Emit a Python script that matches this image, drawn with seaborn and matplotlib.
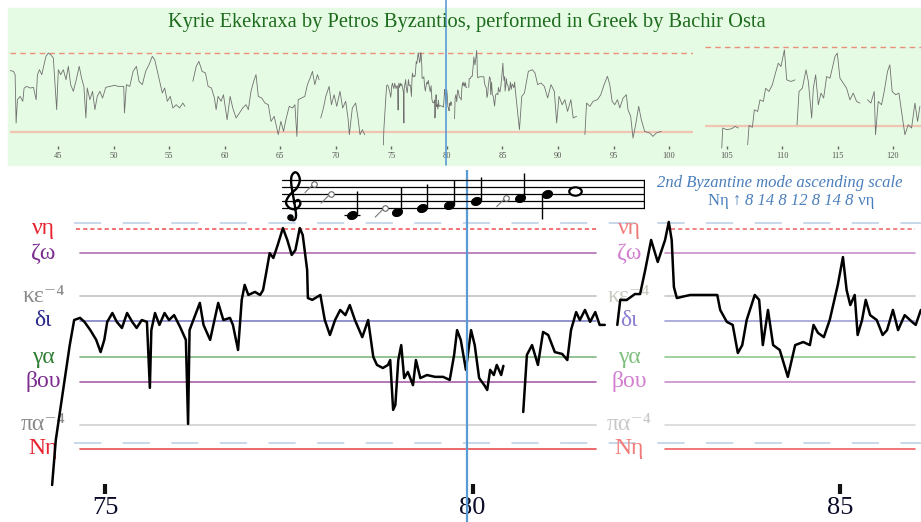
import matplotlib
matplotlib.use("Agg")
import matplotlib.pyplot as plt
from matplotlib.markers import MarkerStyle
from matplotlib.transforms import Affine2D
import numpy as np
import pandas as pd
import seaborn as sns

nan = float("nan")

TITLE = "Kyrie Ekekraxa by Petros Byzantios, performed in Greek by Bachir Osta"
SCALE_TITLE = "2nd Byzantine mode ascending scale"
SCALE_START = "Nη ↑ "
SCALE_STEPS = "8 14 8 12 8 14 8"
SCALE_END = " νη"
CURSOR_T = 79.92  # playback position, seconds

# degrees of the 2nd mode, in moria above the low Nη
degree_names = ["νη", "ζω", "κε⁻⁴", "δι", "γα", "βου", "πα⁻⁴", "Nη"]
degree_moria = [72, 64, 50, 42, 30, 22, 8, 0]
label_colors = ["#e8222e", "#7b2d8e", "#8a8a8a", "#2b2b8c", "#2e7d32", "#7b2d8e", "#8a8a8a", "#e8222e"]
line_colors = ["#f25c5c", "#b070b0", "#c2c2c2", "#8080c4", "#80b880", "#a860a8", "#cfcfcf", "#e85050"]
faded_label_colors = ["#f07a7a", "#d27fd0", "#c9c9c0", "#8a7fd0", "#7fc07f", "#d27fd0", "#c8c8c8", "#f07a7a"]
faded_line_colors = ["#f07070", "#c890c8", "#c8c8c8", "#a0a0d8", "#90c890", "#c890c8", "#d8d8d8", "#f06060"]
tempered_moria = [74, 2]

# zoomed pitch track (seconds, moria)
detail_t = [
    74.28, 74.33, 74.43, 74.52, 74.58, 74.66, 74.72, 74.80, 74.88, 74.94,
    74.99, 75.03, 75.10, 75.16, 75.23, 75.30, 75.37, 75.43, 75.50, 75.57,
    75.61, 75.63, 75.68, 75.74, 75.81, 75.87, 75.94, 76.02, 76.10, 76.13,
    76.15, 76.29, 76.34, 76.43, 76.54, 76.61, 76.70, 76.74, 76.81, 76.86,
    76.90, 76.95, 77.04, 77.11, 77.15, 77.20, 77.24, 77.29, 77.35, 77.42,
    77.48, 77.54, 77.59, 77.65, 77.69, 77.75, 77.76, 77.82, 77.93, 77.99,
    78.06, 78.13, 78.20, 78.27, 78.33, 78.40, 78.50, 78.58, 78.65, 78.70,
    78.78, 78.85, 78.88, 78.92, 78.95, 78.99, 79.03, 79.07, 79.12, 79.19,
    79.23, 79.29, 79.38, 79.49, 79.60, 79.69, 79.75, 79.79, 79.84, 79.91,
    79.98, 80.03, 80.09, 80.16, 80.20, 80.24, 80.29, 80.33, 80.39, 80.42,
    nan,
    80.69, 80.74, 80.81, 80.89, 80.96, 81.03, 81.12, 81.22, 81.29, 81.34,
    81.41, 81.46, 81.53, 81.60, 81.67, 81.73, 81.80,
    nan,
    81.97, 82.01, 82.10, 82.21, 82.28, 82.35, 82.43, 82.52, 82.62, 82.67,
    82.71, 82.74, 82.78, 82.96, 83.16, 83.33, 83.37, 83.46, 83.54, 83.61,
    83.67, 83.73, 83.84, 83.90, 83.95, 84.02, 84.09, 84.18, 84.29, 84.39,
    84.50, 84.59, 84.64, 84.70, 84.78, 84.86, 84.97, 85.04, 85.09, 85.14,
    85.20, 85.24, 85.30, 85.35, 85.41, 85.50, 85.58, 85.64, 85.72, 85.79,
    85.88, 85.98, 86.03, 86.10,
]
detail_p = [
    -11.8, 2.9, 19.3, 34.0, 42.2, 42.9, 41.6, 38.9, 35.7, 31.7,
    35.7, 41.6, 44.5, 41.6, 39.6, 44.5, 41.6, 39.6, 42.2, 41.6,
    20.0, 38.9, 44.5, 40.6, 44.5, 42.2, 43.8, 40.0, 35.7, 8.2,
    38.9, 47.8, 40.6, 35.7, 47.8, 42.2, 42.9, 40.6, 32.4, 48.8,
    53.7, 50.4, 51.4, 50.4, 52.0, 58.6, 64.1, 62.5, 66.8, 72.3,
    68.4, 63.5, 65.1, 72.3, 70.0, 58.6, 49.4, 48.8, 50.4, 42.2,
    37.3, 42.2, 45.5, 43.8, 47.1, 42.2, 36.6, 42.2, 30.1, 27.5,
    26.5, 27.5, 29.1, 12.8, 14.4, 29.1, 34.0, 23.2, 25.2, 20.9,
    29.1, 23.2, 24.2, 23.6, 23.6, 22.6, 30.8, 38.9, 35.7, 25.9,
    38.9, 34.0, 23.2, 20.9, 19.3, 25.9, 24.2, 27.5, 24.2, 27.2,
    nan,
    12.1, 30.8, 34.0, 27.5, 38.3, 37.3, 31.7, 31.1, 29.1, 38.9,
    44.8, 42.2, 45.5, 41.6, 44.8, 40.6, 40.6,
    nan,
    40.6, 48.8, 48.8, 50.7, 50.7, 58.6, 68.4, 61.2, 68.4, 74.3,
    68.4, 53.0, 49.4, 50.4, 50.4, 50.4, 45.5, 41.6, 40.6, 31.4,
    34.0, 42.2, 50.4, 48.8, 34.0, 45.5, 34.0, 32.4, 23.6, 34.0,
    35.0, 34.0, 40.6, 38.0, 36.6, 42.2, 53.7, 62.8, 52.0, 47.1,
    50.4, 37.3, 42.2, 48.8, 43.8, 42.2, 37.3, 38.9, 45.5, 38.9,
    43.8, 41.6, 40.6, 45.5,
]

# overview track before the zoomed part
pre_t = [
    40.64, 40.99, 41.14, 41.23, 41.35, 41.59, 41.83, 41.95, 42.19, 42.49,
    42.79, 43.03, 43.15, 43.33, 43.54, 43.74, 43.92, 44.13, 44.34, 44.58,
    44.88, 45.03, 45.24, 45.48, 45.72, 45.93, 46.14, 46.38, 46.61, 46.91,
    47.12, 47.33, 47.51, 47.63, 47.87, 48.11, 48.32, 48.53, 48.77, 49.01,
    49.30, 49.66, 50.11, 50.41, 50.92, 50.98, 51.16, 51.46, 51.76, 52.06,
    52.29, 52.59, 52.89, 53.19, 53.49, 53.70, 53.91, 54.15, 54.39, 54.60,
    54.84, 55.10, 55.34, 55.64, 55.94, 56.24, 56.42, nan,
    57.14, 57.44, 57.68, 57.97, 58.27, 58.51, 58.81, 59.08, 59.23, 59.41,
    59.68, 59.89, 60.22, 60.49, 60.73, 61.03, 61.33, 61.62, 61.92, 62.13,
    62.37, 62.61, 62.82, 63.03, 63.33, 63.63, 63.93, 64.17, 64.46, 64.82,
    65.06, 65.30, 65.51, 65.81, 66.11, 66.32, 66.50, 66.62, 66.92, 67.21,
    67.45, 67.69, 67.90, 68.11, 68.35, 68.50, nan,
    68.65, 68.89, 69.10, 69.40, 69.61, 69.85, 70.09, 70.38, 70.62, 70.89,
    71.10, 71.22, 71.49, 71.79, 72.00, 72.18, 72.39, 72.60, nan,
]
pre_p = [
    56.2, 55.3, 52.3, 8.2, 29.5, 32.5, 28.0, 40.1, 41.6, 40.1,
    40.7, 29.5, 52.3, 56.8, 52.3, 61.4, 69.0, 72.0, 70.5, 67.5,
    20.4, 56.8, 52.3, 56.8, 47.7, 59.9, 43.2, 37.1, 46.2, 59.9,
    49.2, 41.6, 12.8, 40.1, 29.5, 37.1, 20.4, 32.5, 37.1, 31.0,
    40.7, 41.6, 42.6, 41.6, 41.6, 17.3, 43.2, 41.6, 55.3, 59.9,
    46.2, 43.2, 55.3, 61.4, 69.0, 66.0, 56.8, 46.2, 35.6, 40.1,
    28.0, 32.5, 21.9, 24.9, 21.9, 26.4, 23.4, nan,
    46.2, 59.9, 64.4, 55.3, 53.8, 41.6, 40.1, 31.0, 20.4, 32.5,
    28.0, 34.0, 11.2, 32.5, 21.9, 12.8, 17.3, 21.9, 24.9, 20.4,
    37.1, 46.2, 52.3, 32.5, 31.0, 26.4, 24.9, 9.7, 14.3, -2.4,
    9.7, 0.6, 11.2, 23.4, 21.9, 24.9, -4.0, 29.5, 31.0, 32.5,
    43.2, 49.2, 55.3, 43.2, 52.3, 47.7, nan,
    12.8, 21.9, 32.5, 41.6, 24.9, 34.0, 23.4, 37.1, 21.9, 28.0,
    12.8, -2.4, 21.9, 26.4, 12.8, -2.4, 2.1, -2.4, nan,
]

# overview track after the zoomed part
post_t = [
    86.14, 86.53, 86.74, 86.98, 87.33, 87.69, 87.93, 88.17, 88.47, 88.77,
    89.07, 89.37, 89.67, 89.88, 90.09, 90.38, 90.62, 90.86, 91.16, 91.37,
    91.67, nan,
    92.42, 92.57, 92.87, 93.16, 93.55, 93.85, 94.15, 94.45, 94.66, 94.87,
    95.11, 95.35, 95.56, 95.86, 96.15, 96.30, 96.54, 96.75, 96.99, 97.26,
    97.50, 97.80, 98.25, 98.55, 98.84, 99.29,
]
post_p = [
    40.1, 2.1, 32.5, 35.6, 55.3, 56.8, 53.8, 43.2, 44.7, 41.6,
    31.0, 43.2, 37.1, 8.2, 32.5, 24.9, 29.5, 18.8, 29.5, 12.8,
    14.3, nan,
    -2.4, 26.4, 23.4, 28.0, 29.5, 34.0, 43.2, 50.8, 43.2, 28.0,
    24.9, 29.5, 21.9, 31.0, 34.0, 20.4, 14.3, -5.5, 6.7, 23.4,
    11.2, 0.6, -0.9, -4.0, -0.9, 0.6,
]

# second overview section
late_t = [
    104.55, 104.64, 105.00, 105.45, 105.75, 106.05, nan,
    106.89, 107.01, 107.31, 107.49, 107.79, 108.00, 108.30, 108.51, 108.81, 109.11,
    109.35, 109.65, 109.89, 110.20, 110.41, 110.80, 111.16, nan,
    111.34, 111.52, 111.82, 112.15, 112.36, 112.66, 112.81, 113.02, 113.26, 113.50,
    113.74, 114.01, 114.31, 114.52, 114.76, 114.97, 115.21, 115.51, 115.81, 116.11,
    116.41, 116.71, 117.01, nan,
    117.70, 118.00, 118.30, 118.42, 118.66, 118.96, 119.20, 119.50, 119.71, 119.92,
    120.23, 120.53, 120.83, 121.07, 121.37, 121.67, 121.97, 122.21, 122.42,
]
late_p = [
    -20.3, -2.1, -3.6, -2.7, -0.6, -2.1, nan,
    -17.3, 0.3, -1.5, 14.5, 13.0, 23.6, 22.1, 34.2, 31.2, 37.3,
    46.4, 57.0, 53.9, 69.1, 41.8, 40.3, 41.8, nan,
    0.9, 31.2, 34.2, 50.9, 40.3, 7.0, 34.2, 46.4, 19.1, 29.7,
    25.2, 44.8, 43.3, 52.4, 63.0, 66.1, 43.3, 38.8, 34.2, 23.6,
    29.7, 22.1, 20.6, nan,
    23.6, 20.6, 31.2, -8.2, 22.1, 19.1, 31.2, 49.4, 55.5, 31.2,
    28.2, 29.7, 8.5, -8.2, 0.9, -2.1, 20.6, 3.9, 17.6,
]

overview_ticks_a = [45, 50, 55, 60, 65, 70, 75, 80, 85, 90, 95, 100]
overview_ticks_b = [105, 110, 115, 120]
detail_ticks = [75, 80, 85]

# the ascending scale on the staff: onset (beats), staff step above E4, kind
note_onsets = [1.2, 1.8, 2.6, 3.8, 4.25, 5.2, 6.2, 7.2, 8.3, 8.8, 9.8, 10.85]
note_steps = [7, 4, -2, 0, -1, 0, 1, 2, 3, 3, 4, 5]
note_kinds = ["grace", "grace", "up", "grace", "up", "up", "up", "up", "grace", "up", "down", "whole"]

W, H = 921, 522
SERIF = ["Liberation Serif", "DejaVu Serif", "DejaVu Sans"]


def frame(left, top, right, bottom):
    return [left / W, 1 - bottom / H, (right - left) / W, (bottom - top) / H]


def segments(t, p):
    df = pd.DataFrame({"t": t, "p": p})
    df["seg"] = df["p"].isna().cumsum()
    return df.dropna()


def bare(ax):
    ax.patch.set_alpha(0)
    for s in ax.spines.values():
        s.set_visible(False)
    ax.set_yticks([])
    ax.set(xlabel="", ylabel="")


def smooth(pts, n=10):
    # Catmull-Rom through the guide points, used for the clef outline
    P = np.asarray(pts, dtype=float)
    P = np.vstack([P[0], P, P[-1]])
    t = np.linspace(0, 1, n, endpoint=False)[:, None]
    out = []
    for i in range(1, len(P) - 2):
        p0, p1, p2, p3 = P[i - 1], P[i], P[i + 1], P[i + 2]
        out.append(0.5 * (2 * p1 + (-p0 + p2) * t + (2 * p0 - 5 * p1 + 4 * p2 - p3) * t ** 2
                          + (-p0 + 3 * p1 - 3 * p2 + p3) * t ** 3))
    out.append(P[-2][None])
    return np.vstack(out)


def g_clef(ax, x0):
    guide = [(0.02, 1.6), (0.18, 2.3), (0.26, 1.2), (0.12, -0.2), (-0.12, -0.1),
             (-0.27, 1.5), (-0.15, 3.6), (0.12, 5.6), (0.24, 7.8), (0.18, 9.6),
             (0.06, 10.2), (-0.06, 9.2), (-0.08, 7.2), (-0.02, 4.0), (0.06, 0.5),
             (0.1, -2.2), (0.04, -3.4), (-0.1, -3.3), (-0.14, -2.6)]
    c = smooth(guide)
    ax.plot(c[:, 0] + x0, c[:, 1], color="black", lw=1.7, solid_capstyle="round")
    ax.scatter([x0 - 0.12], [-2.7], s=14, color="black")


sns.set_theme(style="white")
plt.rcParams["font.family"] = SERIF

fig = plt.figure(figsize=(W / 100, H / 100), dpi=100)
fig.add_artist(plt.Rectangle((8 / W, 1 - 165 / H), 1 - 8 / W, 157 / H,
                             transform=fig.transFigure, color="#e6fbe3", zorder=0))
fig.text(467 / W, 1 - 22 / H, TITLE, ha="center", va="center",
         color="#1d6b1d", fontsize=14.8)

# ---- overview panels
ax1 = fig.add_axes(frame(10, 40, 693, 149))
ax2 = fig.add_axes(frame(705, 40, 921, 149))
overview = segments(pre_t + detail_t + post_t, pre_p + detail_p + post_p)
late = segments(late_t, late_p)
for ax, df, ticks, xlim, ylim in [
    (ax1, overview, overview_ticks_a, (40.68, 102.15), (-15.5, 83.9)),
    (ax2, late, overview_ticks_b, (103.04, 122.52), (-21.2, 78.1)),
]:
    ax.axhline(degree_moria[0], color="#e8907c", lw=1.0, ls=(0, (4, 3)))
    ax.axhline(degree_moria[-1], color="#f2c4b2", lw=1.6)
    sns.lineplot(data=df, x="t", y="p", units="seg", estimator=None, sort=False,
                 color="#707070", lw=0.6, ax=ax, legend=False)
    ax.set_xlim(*xlim)
    ax.set_ylim(*ylim)
    ax.set_xticks(ticks)
    ax.tick_params(axis="x", direction="in", length=2.5, width=1, color="#666",
                   labelsize=6, labelcolor="#555", pad=2, bottom=True)
    bare(ax)
ax1.axvline(CURSOR_T, ymin=-0.147, ymax=1.367, clip_on=False, color="#5b9bd5", lw=1.2)

# ---- zoomed panel
axm = fig.add_axes(frame(0, 170, 921, 522))
axm.set_xlim(73.571, 86.102)
axm.set_ylim(-23.9, 91.3)
for m in tempered_moria:
    axm.axhline(m, xmin=0.08, xmax=1, color="#c8d8ec", lw=1.4, ls=(0, (14, 11)))
for i, (name, m) in enumerate(zip(degree_names, degree_moria)):
    ls = (0, (2.5, 1.8)) if i == 0 else "-"
    axm.axhline(m, xmin=0.082 if i == 0 else 0.087, xmax=0.647, color=line_colors[i], lw=1.2, ls=ls)
    axm.axhline(m, xmin=0.729 if i == 0 else 0.722, xmax=0.994, color=faded_line_colors[i], lw=1.2, ls=ls)
    axm.text(0.047, m, name, transform=axm.get_yaxis_transform(), ha="center", va="center",
             color=label_colors[i], fontsize=17, zorder=3)
    axm.text(0.683, m, name, transform=axm.get_yaxis_transform(), ha="center", va="center",
             color=faded_label_colors[i], fontsize=17, zorder=3)
sns.lineplot(data=segments(detail_t, detail_p), x="t", y="p", units="seg", estimator=None,
             sort=False, color="black", lw=1.8, ax=axm, legend=False, zorder=5)
axm.axvline(CURSOR_T, color="#5b9bd5", lw=1.6, zorder=6)
axm.set_xticks([])
bare(axm)
sec = axm.secondary_xaxis(28 / 352)
sec.set_xticks(detail_ticks)
sec.spines["bottom"].set_visible(False)
sec.tick_params(direction="in", length=7, width=3, color="#111", labelsize=19,
                labelcolor="#0b0b2a", pad=2)

# ---- staff with the scale
axs = fig.add_axes(frame(282, 170, 645, 222))
axs.set_xlim(0, 13.44)
axs.set_ylim(-4, 10.86)
axs.axis("off")
for s in range(0, 9, 2):
    axs.axhline(s, color="black", lw=0.9)
axs.axvline(13.4, ymin=4 / 14.86, ymax=12 / 14.86, color="black", lw=1)
g_clef(axs, 0.42)

on = np.array(note_onsets)
st = np.array(note_steps)
kinds = np.array(note_kinds)
head = MarkerStyle("o", transform=Affine2D().scale(1.35, 1.0).rotate_deg(20))
whole = MarkerStyle("o", transform=Affine2D().scale(1.5, 1.0))
stemmed = (kinds == "up") | (kinds == "down")
for k, sign in [("up", 1), ("down", -1)]:
    sel = kinds == k
    axs.vlines(on[sel] + 0.17 * sign, st[sel], st[sel] + 7 * sign, color="black", lw=1)
axs.scatter(on[stemmed], st[stemmed], marker=head, s=28, color="black", zorder=3)
axs.scatter(on[kinds == "whole"], st[kinds == "whole"], marker=whole, s=36,
            facecolor="white", edgecolor="black", lw=1.6, zorder=3)
for o, s in zip(on[stemmed], st[stemmed]):
    if s <= -2:
        axs.hlines(-2, o - 0.3, o + 0.3, color="black", lw=0.9)
g = kinds == "grace"
axs.scatter(on[g], st[g], s=16, facecolor="white", edgecolor="#666", lw=0.8, zorder=3)
for o, s in zip(on[g], st[g]):
    axs.plot([o - 0.35, o - 0.08], [s - 2.6, s - 0.5], color="#777", lw=0.8)

# ---- scale caption
fig.text(780 / W, 1 - 183 / H, SCALE_TITLE, ha="center", va="center",
         style="italic", color="#4a7ebb", fontsize=12)
t1 = fig.text(708 / W, 1 - 209 / H, SCALE_START, ha="left", va="bottom",
              color="#4a7ebb", fontsize=12)
t2 = axm.annotate(SCALE_STEPS, xy=(1, 0), xycoords=t1, va="bottom", ha="left",
                  style="italic", color="#4a7ebb", fontsize=12)
axm.annotate(SCALE_END, xy=(1, 0), xycoords=t2, va="bottom", ha="left",
             color="#4a7ebb", fontsize=12)

fig.savefig("out.png", dpi=100)
